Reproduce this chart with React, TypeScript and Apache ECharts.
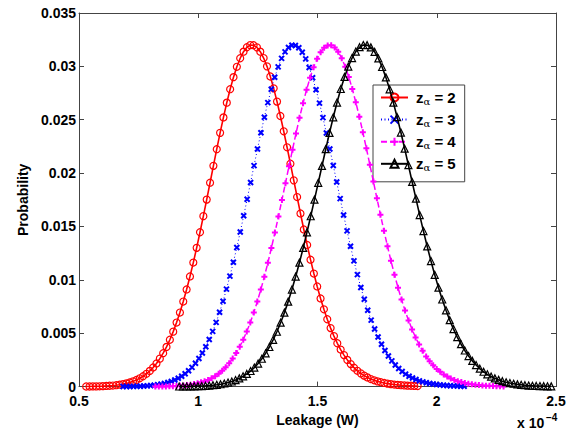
import React, { useEffect, useRef } from "react";
import * as echarts from "echarts";

// z_alpha values for the four curves
const zAlpha = [2, 3, 4, 5];

// histogram ranges (x 1e-4 W): first and last bin centres of each curve
const binStart = [0.53, 0.685, 0.82, 0.92];
const binEnd = [1.92, 2.115, 2.28, 2.48];

// axis ticks
const xTicks = [0.5, 1, 1.5, 2, 2.5];
const yTicks = [0, 0.005, 0.01, 0.015, 0.02, 0.025, 0.03, 0.035];

// probability per bin (100 bins each)
const probZ2 = [
  0.00001, 0.00001, 0.00002, 0.00002, 0.00003, 0.00004, 0.00006, 0.00008, 0.0001, 0.00013,
  0.00018, 0.00023, 0.0003, 0.00039, 0.00049, 0.00062, 0.00078, 0.00097, 0.0012, 0.00147,
  0.00179, 0.00217, 0.00262, 0.00313, 0.00372, 0.00439, 0.00515, 0.006, 0.00694, 0.00797,
  0.0091, 0.01032, 0.01162, 0.013, 0.01446, 0.01597, 0.01752, 0.0191, 0.02068, 0.02224,
  0.02377, 0.02522, 0.0266, 0.02786, 0.02899, 0.02996, 0.03076, 0.03138, 0.03179, 0.03199,
  0.03198, 0.03178, 0.03138, 0.03078, 0.03, 0.02905, 0.02794, 0.0267, 0.02535, 0.02392,
  0.02242, 0.02088, 0.01932, 0.01776, 0.01622, 0.01472, 0.01327, 0.01189, 0.01059, 0.00938,
  0.00826, 0.00724, 0.00631, 0.00548, 0.00473, 0.00406, 0.00347, 0.00295, 0.0025, 0.00211,
  0.00177, 0.00148, 0.00124, 0.00103, 0.00086, 0.00071, 0.00059, 0.00049, 0.00041, 0.00034,
  0.00028, 0.00023, 0.00019, 0.00016, 0.00013, 0.00011, 0.00009, 0.00008, 0.00006, 0.00005,
];
const probZ3 = [
  0.00001, 0.00001, 0.00001, 0.00002, 0.00003, 0.00004, 0.00005, 0.00007, 0.0001, 0.00013,
  0.00017, 0.00023, 0.0003, 0.00038, 0.00049, 0.00062, 0.00078, 0.00097, 0.00121, 0.00148,
  0.0018, 0.00219, 0.00264, 0.00315, 0.00374, 0.00441, 0.00517, 0.00602, 0.00697, 0.008,
  0.00913, 0.01035, 0.01165, 0.01303, 0.01449, 0.016, 0.01755, 0.01912, 0.0207, 0.02226,
  0.02378, 0.02523, 0.0266, 0.02786, 0.02898, 0.02995, 0.03075, 0.03136, 0.03177, 0.03198,
  0.03196, 0.03174, 0.03132, 0.0307, 0.0299, 0.02893, 0.02781, 0.02656, 0.0252, 0.02376,
  0.02226, 0.02072, 0.01916, 0.01761, 0.01608, 0.01459, 0.01315, 0.01178, 0.01049, 0.00929,
  0.00818, 0.00716, 0.00623, 0.00539, 0.00464, 0.00397, 0.00338, 0.00286, 0.00241, 0.00202,
  0.00169, 0.00141, 0.00117, 0.00097, 0.0008, 0.00066, 0.00054, 0.00044, 0.00036, 0.00029,
  0.00024, 0.00019, 0.00016, 0.00013, 0.0001, 0.00008, 0.00007, 0.00005, 0.00004, 0.00003,
];
const probZ4 = [
  0.00001, 0.00001, 0.00002, 0.00002, 0.00003, 0.00004, 0.00006, 0.00008, 0.00011, 0.00014,
  0.00018, 0.00024, 0.00031, 0.0004, 0.0005, 0.00063, 0.00079, 0.00098, 0.00121, 0.00148,
  0.00181, 0.00219, 0.00263, 0.00314, 0.00373, 0.0044, 0.00516, 0.006, 0.00694, 0.00797,
  0.00909, 0.0103, 0.0116, 0.01298, 0.01443, 0.01594, 0.01749, 0.01906, 0.02064, 0.0222,
  0.02372, 0.02518, 0.02655, 0.02781, 0.02894, 0.02991, 0.03071, 0.03133, 0.03175, 0.03196,
  0.03197, 0.03177, 0.03137, 0.03076, 0.02997, 0.02901, 0.02789, 0.02664, 0.02528, 0.02384,
  0.02233, 0.02078, 0.01921, 0.01765, 0.01611, 0.01461, 0.01316, 0.01178, 0.01048, 0.00927,
  0.00815, 0.00713, 0.0062, 0.00536, 0.00461, 0.00394, 0.00335, 0.00283, 0.00238, 0.00199,
  0.00166, 0.00138, 0.00114, 0.00094, 0.00077, 0.00063, 0.00051, 0.00042, 0.00034, 0.00027,
  0.00022, 0.00018, 0.00014, 0.00011, 0.00009, 0.00007, 0.00006, 0.00004, 0.00003, 0.00002,
];
const probZ5 = [
  0.00001, 0.00001, 0.00001, 0.00002, 0.00003, 0.00004, 0.00005, 0.00007, 0.0001, 0.00013,
  0.00017, 0.00022, 0.00029, 0.00038, 0.00048, 0.00061, 0.00077, 0.00096, 0.00119, 0.00146,
  0.00178, 0.00216, 0.00261, 0.00312, 0.00371, 0.00438, 0.00514, 0.00599, 0.00693, 0.00796,
  0.00909, 0.01031, 0.01161, 0.01299, 0.01445, 0.01596, 0.01751, 0.01909, 0.02067, 0.02224,
  0.02377, 0.02523, 0.02661, 0.02788, 0.02901, 0.02998, 0.03078, 0.03139, 0.0318, 0.032,
  0.03199, 0.03178, 0.03136, 0.03074, 0.02994, 0.02897, 0.02785, 0.0266, 0.02524, 0.0238,
  0.02229, 0.02074, 0.01917, 0.01761, 0.01607, 0.01457, 0.01313, 0.01176, 0.01047, 0.00927,
  0.00816, 0.00715, 0.00622, 0.00539, 0.00464, 0.00397, 0.00338, 0.00286, 0.00241, 0.00202,
  0.00168, 0.00139, 0.00115, 0.00094, 0.00077, 0.00063, 0.00051, 0.00041, 0.00033, 0.00027,
  0.00021, 0.00017, 0.00013, 0.0001, 0.00008, 0.00006, 0.00005, 0.00004, 0.00003, 0.00002,
];
const probs = [probZ2, probZ3, probZ4, probZ5];

const FONT = '"Liberation Sans", Arial, Helvetica, sans-serif';
const AXIS_COLOR = "#444";

const seriesStyles = [
  { color: "#ff0000", line: "solid", lineWidth: 1.6, symbol: "circle", size: 7, border: 1.2 },
  { color: "#0000ff", line: [1, 2.5], lineWidth: 1, symbol: "path://M0,0L10,10M10,0L0,10", size: 5, border: 2 },
  { color: "#ff00ff", line: [6, 3], lineWidth: 1.5, symbol: "path://M5,0L5,10M0,5L10,5", size: 6, border: 2 },
  { color: "#000000", line: "solid", lineWidth: 1.6, symbol: "triangle", size: 7, border: 1.2 },
];

function binPairs(lo: number, hi: number, vals: number[]) {
  const n = vals.length;
  return vals.map((v, i) => [lo + ((hi - lo) * i) / (n - 1), v]);
}

export default function App() {
  const ref = useRef<HTMLDivElement>(null);
  useEffect(() => {
    if (!ref.current) return;
    const chart = echarts.init(ref.current, undefined, { renderer: "svg" });
    const names = zAlpha.map((z) => `zα = ${z}`);
    const series = zAlpha.map((z, k) => {
      const st = seriesStyles[k];
      return {
        type: "line",
        name: names[k],
        data: binPairs(binStart[k], binEnd[k], probs[k]),
        symbol: st.symbol,
        symbolSize: st.size,
        showSymbol: true,
        showAllSymbol: true,
        lineStyle: { color: st.color, width: st.lineWidth, type: st.line },
        itemStyle: { color: "rgba(0,0,0,0)", borderColor: st.color, borderWidth: st.border },
        emphasis: { disabled: true },
        z: 2 + k,
      };
    });
    const xMin = xTicks[0];
    const xMax = xTicks[xTicks.length - 1];
    const yMin = yTicks[0];
    const yMax = yTicks[yTicks.length - 1];
    const lbl = { color: "#000", fontFamily: FONT, fontWeight: "bold", fontSize: 14 };
    const line = { show: true, onZero: false, lineStyle: { color: AXIS_COLOR, width: 1 } };
    const tick = { show: true, inside: true, length: 5, lineStyle: { color: AXIS_COLOR, width: 1 } };
    chart.setOption({
      animation: false,
      backgroundColor: "#fff",
      grid: { left: 79, right: 20, top: 13, bottom: 43.5 },
      xAxis: [
        {
          type: "value", min: xMin, max: xMax, interval: 0.5, position: "bottom",
          axisLine: line, axisTick: tick, splitLine: { show: false },
          axisLabel: { ...lbl, margin: 8, lineHeight: 13 },
          name: "Leakage (W)", nameLocation: "middle", nameGap: 21,
          nameTextStyle: { ...lbl },
        },
        {
          type: "value", min: xMin, max: xMax, interval: 0.5, position: "top",
          axisLine: line, axisTick: tick, splitLine: { show: false }, axisLabel: { show: false },
        },
      ],
      yAxis: [
        {
          type: "value", min: yMin, max: yMax, interval: 0.005, position: "left",
          axisLine: line, axisTick: tick, splitLine: { show: false },
          axisLabel: { ...lbl, margin: 3, lineHeight: 11 },
          name: "Probability", nameLocation: "middle", nameGap: 48, nameRotate: 90,
          nameTextStyle: { ...lbl },
        },
        {
          type: "value", min: yMin, max: yMax, interval: 0.005, position: "right",
          axisLine: line, axisTick: tick, splitLine: { show: false }, axisLabel: { show: false },
        },
      ],
      legend: {
        data: names,
        orient: "vertical",
        left: 373,
        top: 85,
        backgroundColor: "#fff",
        borderColor: AXIS_COLOR,
        borderWidth: 1,
        borderRadius: 0,
        padding: [5, 9, 9, 7],
        itemWidth: 27,
        itemHeight: 10,
        itemGap: 5.6,
        selectedMode: false,
        formatter: (name: string) => {
          const k = name.split("=")[1].trim();
          return `{z|z}{a|α}{t| = ${k}}`;
        },
        textStyle: {
          padding: [0, 0, 0, 3],
          rich: {
            z: { fontFamily: FONT, fontWeight: "bold", fontSize: 15, color: "#000", lineHeight: 18 },
            a: { fontFamily: '"DejaVu Serif", serif', fontSize: 10, color: "#000", lineHeight: 6, verticalAlign: "bottom" },
            t: { fontFamily: FONT, fontWeight: "bold", fontSize: 15, color: "#000", lineHeight: 18 },
          },
        },
      },
      graphic: [
        {
          type: "text", left: 517, top: 416,
          style: { text: "x 10", fontFamily: FONT, fontWeight: "bold", fontSize: 14, fill: "#000" },
        },
        {
          type: "text", left: 546, top: 412,
          style: { text: "−4", fontFamily: FONT, fontWeight: "bold", fontSize: 10, fill: "#000" },
        },
      ],
      series,
    });
    return () => chart.dispose();
  }, []);
  return (
    <div
      ref={ref}
      style={{ position: "absolute", left: 0, top: 0, width: 576, height: 432 }}
    />
  );
}
